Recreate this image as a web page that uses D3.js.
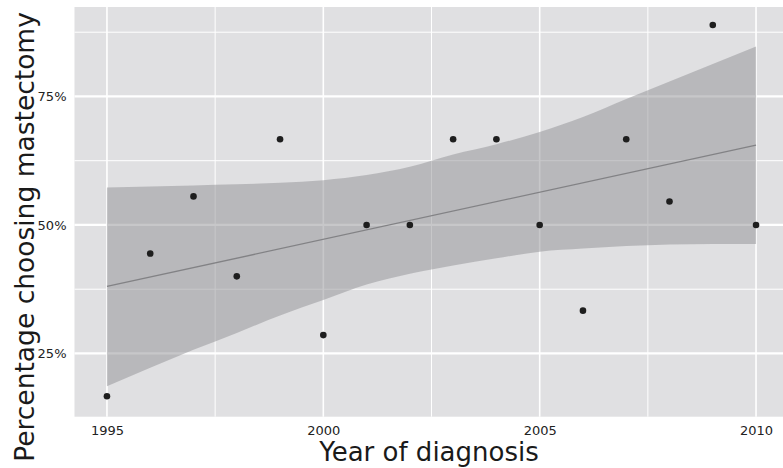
<!DOCTYPE html>
<html>
<head>
<meta charset="utf-8">
<script src="https://cdn.jsdelivr.net/npm/d3@7"></script>
<style>
  body { margin: 0; background: #fff; }
  text { font-family: "DejaVu Sans", sans-serif; }
</style>
</head>
<body>
<svg id="chart"></svg>
<script>
// observed share choosing mastectomy, one point per year
const years = [1995, 1996, 1997, 1998, 1999, 2000, 2001, 2002, 2003, 2004, 2005, 2006, 2007, 2008, 2009, 2010];
const share = [0.1667, 0.4444, 0.5556, 0.4, 0.6667, 0.2857, 0.5, 0.5, 0.6667, 0.6667, 0.5, 0.3333, 0.6667, 0.5455, 0.8889, 0.5];

// confidence band
const bandUpper = [0.573, 0.575, 0.577, 0.579, 0.582, 0.587, 0.597, 0.613, 0.637, 0.657, 0.681, 0.710, 0.745, 0.779, 0.813, 0.847];
const bandLower = [0.186, 0.222, 0.257, 0.290, 0.324, 0.354, 0.384, 0.405, 0.421, 0.435, 0.448, 0.454, 0.459, 0.462, 0.463, 0.463];

const xTicks = [1995, 2000, 2005, 2010];
const xMinor = [1997.5, 2002.5, 2007.5];
const yTicks = [0.25, 0.5, 0.75];
const yMinor = [0.375, 0.625, 0.875];

const width = 783, height = 468;
const panel = { left: 74.5, right: 788.5, top: 7, bottom: 416.7 };

const svg = d3.select('#chart')
    .attr('width', width)
    .attr('height', height);

const x = d3.scaleLinear()
    .domain([1994.25, 2010.75])
    .range([panel.left, panel.right]);

const y = d3.scaleLinear()
    .domain([0.127, 0.924])
    .range([panel.bottom, panel.top]);

// panel background
svg.append('rect')
    .attr('x', panel.left)
    .attr('y', panel.top)
    .attr('width', panel.right - panel.left)
    .attr('height', panel.bottom - panel.top)
    .attr('fill', '#e0e0e2');

const grid = svg.append('g').attr('stroke', '#fff');

// minor grid
grid.selectAll('.xminor').data(xMinor).join('line')
    .attr('x1', d => x(d)).attr('x2', d => x(d))
    .attr('y1', panel.top).attr('y2', panel.bottom)
    .attr('stroke-width', 1);
grid.selectAll('.yminor').data(yMinor).join('line')
    .attr('y1', d => y(d)).attr('y2', d => y(d))
    .attr('x1', panel.left).attr('x2', panel.right)
    .attr('stroke-width', 1);

// major grid
grid.selectAll('.xmajor').data(xTicks).join('line')
    .attr('x1', d => x(d)).attr('x2', d => x(d))
    .attr('y1', panel.top).attr('y2', panel.bottom)
    .attr('stroke-width', 1.6);
grid.selectAll('.ymajor').data(yTicks).join('line')
    .attr('y1', d => y(d)).attr('y2', d => y(d))
    .attr('x1', panel.left).attr('x2', panel.right)
    .attr('stroke-width', 2.2);

// confidence band
const bandData = years.map((yr, i) => ({ yr, lo: bandLower[i], hi: bandUpper[i] }));
const area = d3.area()
    .x(d => x(d.yr))
    .y0(d => y(d.lo))
    .y1(d => y(d.hi))
    .curve(d3.curveMonotoneX);

svg.append('path')
    .datum(bandData)
    .attr('d', area)
    .attr('fill', '#949497')
    .attr('fill-opacity', 0.52);

// least squares fit line
const mx = d3.mean(years), my = d3.mean(share);
const slope = d3.sum(years, (yr, i) => (yr - mx) * (share[i] - my)) / d3.sum(years, yr => (yr - mx) ** 2);
const fit = d3.extent(years).map(yr => ({ yr, v: my + slope * (yr - mx) }));

svg.append('path')
    .datum(fit)
    .attr('d', d3.line().x(d => x(d.yr)).y(d => y(d.v)))
    .attr('fill', 'none')
    .attr('stroke', '#828285')
    .attr('stroke-width', 1.3);

// points
svg.selectAll('.pt')
    .data(years.map((yr, i) => ({ yr, v: share[i] })))
    .join('circle')
    .attr('class', 'pt')
    .attr('cx', d => x(d.yr))
    .attr('cy', d => y(d.v))
    .attr('r', 3.3)
    .attr('fill', '#1e1e1e');

// axes (labels only, no lines)
const xAxis = d3.axisBottom(x)
    .tickValues(xTicks)
    .tickFormat(d3.format('d'))
    .tickSize(0)
    .tickPadding(9);

const yAxis = d3.axisLeft(y)
    .tickValues(yTicks)
    .tickFormat(d3.format('.0%'))
    .tickSize(0)
    .tickPadding(8);

const xAxisG = svg.append('g')
    .attr('transform', `translate(0,${panel.bottom})`)
    .call(xAxis);
const yAxisG = svg.append('g')
    .attr('transform', `translate(${panel.left},0)`)
    .call(yAxis);

[xAxisG, yAxisG].forEach(g => {
  g.select('.domain').remove();
  g.selectAll('text')
    .attr('fill', '#222')
    .style('font-size', '13px')
    .style('font-family', '"DejaVu Sans", sans-serif');
});

// axis titles
svg.append('text')
    .attr('x', 429)
    .attr('y', 461)
    .attr('text-anchor', 'middle')
    .attr('fill', '#1a1a1a')
    .style('font-size', '26px')
    .text('Year of diagnosis');

svg.append('text')
    .attr('transform', 'translate(33.5,237) rotate(-90)')
    .attr('text-anchor', 'middle')
    .attr('fill', '#1a1a1a')
    .style('font-size', '26.5px')
    .text('Percentage choosing mastectomy');
</script>
</body>
</html>
